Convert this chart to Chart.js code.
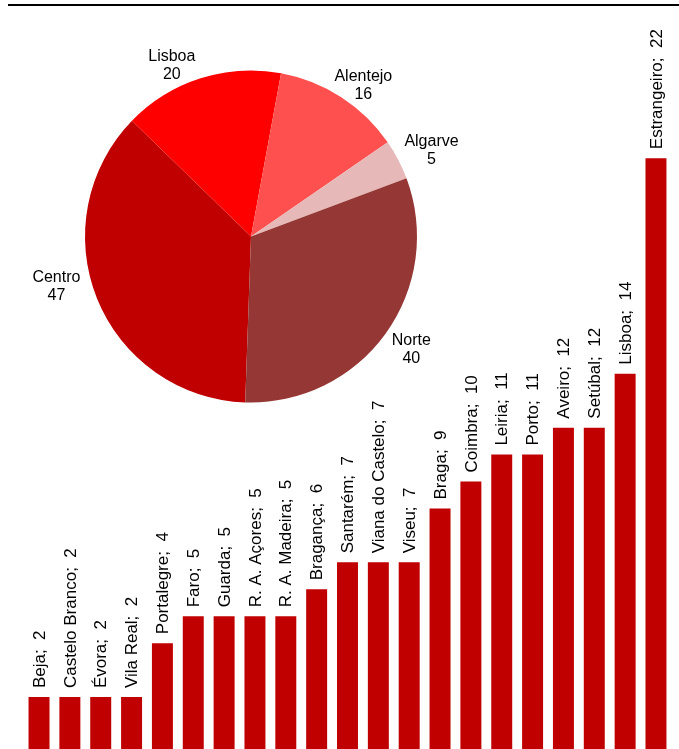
<!DOCTYPE html>
<html>
<head>
<meta charset="utf-8">
<script src="https://cdn.jsdelivr.net/npm/chart.js@4"></script>
<style>
  html, body { margin: 0; padding: 0; background: #fff; }
  #wrap { position: relative; width: 679px; height: 749px; overflow: hidden; }
  #barBox { position: absolute; left: 0; top: 0; width: 679px; height: 749px; }
  #pieBox { position: absolute; left: 0; top: 0; width: 480px; height: 450px; }
  #topLine { position: absolute; left: 8px; top: 4px; width: 671px; height: 2px; background: #000; }
</style>
</head>
<body>
<div id="wrap">
  <div id="barBox"><canvas id="bar"></canvas></div>
  <div id="pieBox"><canvas id="pie"></canvas></div>
  <div id="topLine"></div>
</div>
<script>
// ---- Data ----
const barCategories = ["Beja", "Castelo Branco", "Évora", "Vila Real", "Portalegre", "Faro", "Guarda",
  "R. A. Açores", "R. A. Madeira", "Bragança", "Santarém", "Viana do Castelo", "Viseu", "Braga",
  "Coimbra", "Leiria", "Porto", "Aveiro", "Setúbal", "Lisboa", "Estrangeiro"];
const barValues = [2, 2, 2, 2, 4, 5, 5, 5, 5, 6, 7, 7, 7, 9, 10, 11, 11, 12, 12, 14, 22];

const pieCategories = ["Centro", "Lisboa", "Alentejo", "Algarve", "Norte"];
const pieValues = [47, 20, 16, 5, 40];

// ---- Styles ----
const barColor = "#C00000";
const pieColors = ["#C00000", "#FF0000", "#FF5050", "#E6B9B8", "#953735"];
// label placement (angle from top, clockwise, degrees; distance from pie centre in px)
const pieLabelPolar = [[-104.5, 201], [-24.9, 188], [36.7, 188], [64.5, 200], [125.1, 196]];
const FONT = "'Liberation Sans', Arial, sans-serif";

Chart.defaults.font.family = FONT;
Chart.defaults.animation = false;

const barLabelPlugin = {
  id: 'barLabels',
  afterDatasetsDraw(chart) {
    const ctx = chart.ctx;
    const meta = chart.getDatasetMeta(0);
    ctx.save();
    ctx.fillStyle = '#000';
    ctx.font = "17px " + FONT;
    ctx.textAlign = 'left';
    ctx.textBaseline = 'middle';
    meta.data.forEach((el, i) => {
      const txt = barCategories[i] + ";  " + barValues[i];
      ctx.save();
      ctx.translate(el.x + 1, el.y - 9);
      ctx.rotate(-Math.PI / 2);
      ctx.fillText(txt, 0, 0);
      ctx.restore();
    });
    ctx.restore();
  }
};

new Chart(document.getElementById('bar'), {
  type: 'bar',
  data: {
    labels: barCategories,
    datasets: [{
      data: barValues,
      backgroundColor: barColor,
      borderWidth: 0,
      barPercentage: 0.68,
      categoryPercentage: 1.0
    }]
  },
  options: {
    responsive: true,
    maintainAspectRatio: false,
    layout: { padding: { left: 23.6, right: 7.6, top: 0, bottom: 0 } },
    plugins: { legend: { display: false }, tooltip: { enabled: false } },
    scales: {
      x: { display: false, offset: true },
      y: { display: false, min: 0.074, max: 27.87 }
    }
  },
  plugins: [barLabelPlugin]
});

const pieLabelPlugin = {
  id: 'pieLabels',
  afterDatasetsDraw(chart) {
    const ctx = chart.ctx;
    const arc = chart.getDatasetMeta(0).data[0];
    const cx = arc.x, cy = arc.y;
    ctx.save();
    ctx.fillStyle = '#000';
    ctx.font = "16px " + FONT;
    ctx.textAlign = 'center';
    ctx.textBaseline = 'middle';
    pieCategories.forEach((name, i) => {
      const [ang, dist] = pieLabelPolar[i];
      const a = ang * Math.PI / 180;
      const x = cx + Math.sin(a) * dist;
      const y = cy - Math.cos(a) * dist;
      ctx.fillText(name, x, y - 9);
      ctx.fillText(String(pieValues[i]), x, y + 9);
    });
    ctx.restore();
  }
};

new Chart(document.getElementById('pie'), {
  type: 'pie',
  data: {
    labels: pieCategories,
    datasets: [{
      data: pieValues,
      backgroundColor: pieColors,
      borderWidth: 0
    }]
  },
  options: {
    responsive: true,
    maintainAspectRatio: false,
    rotation: 182,
    layout: { padding: { left: 85, top: 70, right: 63, bottom: 47 } },
    plugins: { legend: { display: false }, tooltip: { enabled: false } }
  },
  plugins: [pieLabelPlugin]
});
</script>
</body>
</html>
